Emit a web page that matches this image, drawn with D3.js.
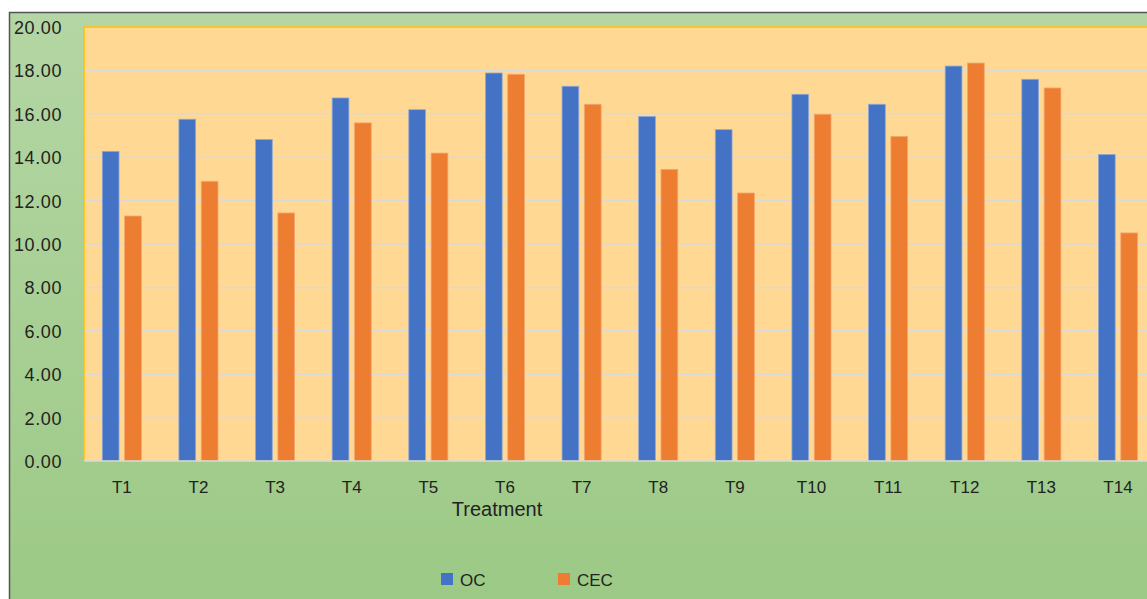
<!DOCTYPE html>
<html>
<head>
<meta charset="utf-8">
<script src="https://cdn.jsdelivr.net/npm/d3@7"></script>
<style>
  html, body { margin: 0; padding: 0; background: #ffffff; }
  svg { display: block; }
  text { font-family: "Liberation Sans", Arial, sans-serif; fill: #222; }
</style>
</head>
<body>
<svg id="chart" width="1147" height="599"></svg>
<script>
// Treatment categories and measured values
const categories = ["T1","T2","T3","T4","T5","T6","T7","T8","T9","T10","T11","T12","T13","T14"];
const seriesNames = ["OC","CEC"];
const ocValues  = [14.27, 15.75, 14.82, 16.73, 16.19, 17.88, 17.27, 15.88, 15.27, 16.90, 16.44, 18.20, 17.59, 14.13];
const cecValues = [11.29, 12.89, 11.43, 15.58, 14.19, 17.82, 16.44, 13.44, 12.35, 15.98, 14.96, 18.34, 17.19, 10.51];
const yTicks = [0, 2, 4, 6, 8, 10, 12, 14, 16, 18, 20];
const xTitle = "Treatment";

const colors = { OC: "#4472C4", CEC: "#ED7D31" };
const strokes = { OC: "#8FA9DA", CEC: "#F5A56E" };

const rows = categories.map((c, i) => ({ cat: c, OC: ocValues[i], CEC: cecValues[i] }));

const svg = d3.select("#chart");

// chart area background (green gradient)
const defs = svg.append("defs");
const grad = defs.append("linearGradient").attr("id", "bg").attr("x1", 0).attr("y1", 0).attr("x2", 0).attr("y2", 1);
grad.append("stop").attr("offset", "0%").attr("stop-color", "#B4D6A4");
grad.append("stop").attr("offset", "100%").attr("stop-color", "#9CC985");

svg.append("rect")
  .attr("x", 9.5).attr("y", 12.5).attr("width", 1150).attr("height", 600)
  .attr("fill", "url(#bg)").attr("stroke", "#555").attr("stroke-width", 1.5);

// plot area
const plot = { left: 84, top: 27, right: 1156.3, bottom: 461 };

const x0 = d3.scaleBand().domain(categories).range([83.5, 1156.3]).paddingInner(0.49).paddingOuter(0.245);
const x1 = d3.scaleBand().domain(seriesNames).range([0, x0.bandwidth()]).paddingInner(0.25);
const y = d3.scaleLinear().domain([0, 20]).range([plot.bottom, plot.top]);

svg.append("rect")
  .attr("x", plot.left).attr("y", plot.top)
  .attr("width", plot.right - plot.left).attr("height", plot.bottom - plot.top)
  .attr("fill", "#FFD994");

// gridlines
svg.append("g").selectAll("line").data(yTicks.filter(t => t > 0)).join("line")
  .attr("x1", plot.left).attr("x2", plot.right)
  .attr("y1", d => y(d)).attr("y2", d => y(d))
  .attr("stroke", "#D9D9D9").attr("stroke-width", 1.5);

// plot border (top & left in yellow)
svg.append("path")
  .attr("d", `M${plot.left},${plot.bottom} V${plot.top} H${plot.right}`)
  .attr("fill", "none").attr("stroke", "#FFC000").attr("stroke-width", 1.5);

// bars
const groups = svg.append("g").selectAll("g").data(rows).join("g")
  .attr("transform", d => `translate(${x0(d.cat)},0)`);
groups.selectAll("rect").data(d => seriesNames.map(k => ({ key: k, value: d[k] }))).join("rect")
  .attr("x", d => x1(d.key))
  .attr("y", d => y(d.value))
  .attr("width", x1.bandwidth())
  .attr("height", d => y(0) - y(d.value))
  .attr("fill", d => colors[d.key])
  .attr("stroke", d => strokes[d.key])
  .attr("stroke-width", 0.8);

// baseline
svg.append("line")
  .attr("x1", plot.left).attr("x2", plot.right)
  .attr("y1", y(0)).attr("y2", y(0))
  .attr("stroke", "#D9D9D9").attr("stroke-width", 1.5);

// y axis labels
const yAxis = d3.axisLeft(y).tickValues(yTicks).tickFormat(d3.format(".2f")).tickSize(0).tickPadding(0);
const yg = svg.append("g").attr("transform", "translate(62,0)").call(yAxis);
yg.select(".domain").remove();
yg.selectAll("text").attr("font-size", 18).attr("font-family", "Liberation Sans, Arial, sans-serif")
  .attr("fill", "#222").attr("letter-spacing", "0.6px").attr("dy", "0.36em");

// x axis labels
const xAxis = d3.axisBottom(x0).tickSize(0).tickPadding(0);
const xg = svg.append("g").attr("transform", `translate(0,${plot.bottom + 20})`).call(xAxis);
xg.select(".domain").remove();
xg.selectAll("text").attr("font-size", 17).attr("font-family", "Liberation Sans, Arial, sans-serif")
  .attr("fill", "#222").attr("dy", "0.68em");

// axis title
svg.append("text").attr("x", 497).attr("y", 516).attr("text-anchor", "middle")
  .attr("font-size", 20).text(xTitle);

// legend
const legendItems = [{ key: "OC", x: 441 }, { key: "CEC", x: 558 }];
const lg = svg.append("g").selectAll("g").data(legendItems).join("g")
  .attr("transform", d => `translate(${d.x},573)`);
lg.append("rect").attr("width", 12).attr("height", 12).attr("fill", d => colors[d.key]);
lg.append("text").attr("x", 19).attr("y", 12.5).attr("font-size", 17).text(d => d.key);
</script>
</body>
</html>
